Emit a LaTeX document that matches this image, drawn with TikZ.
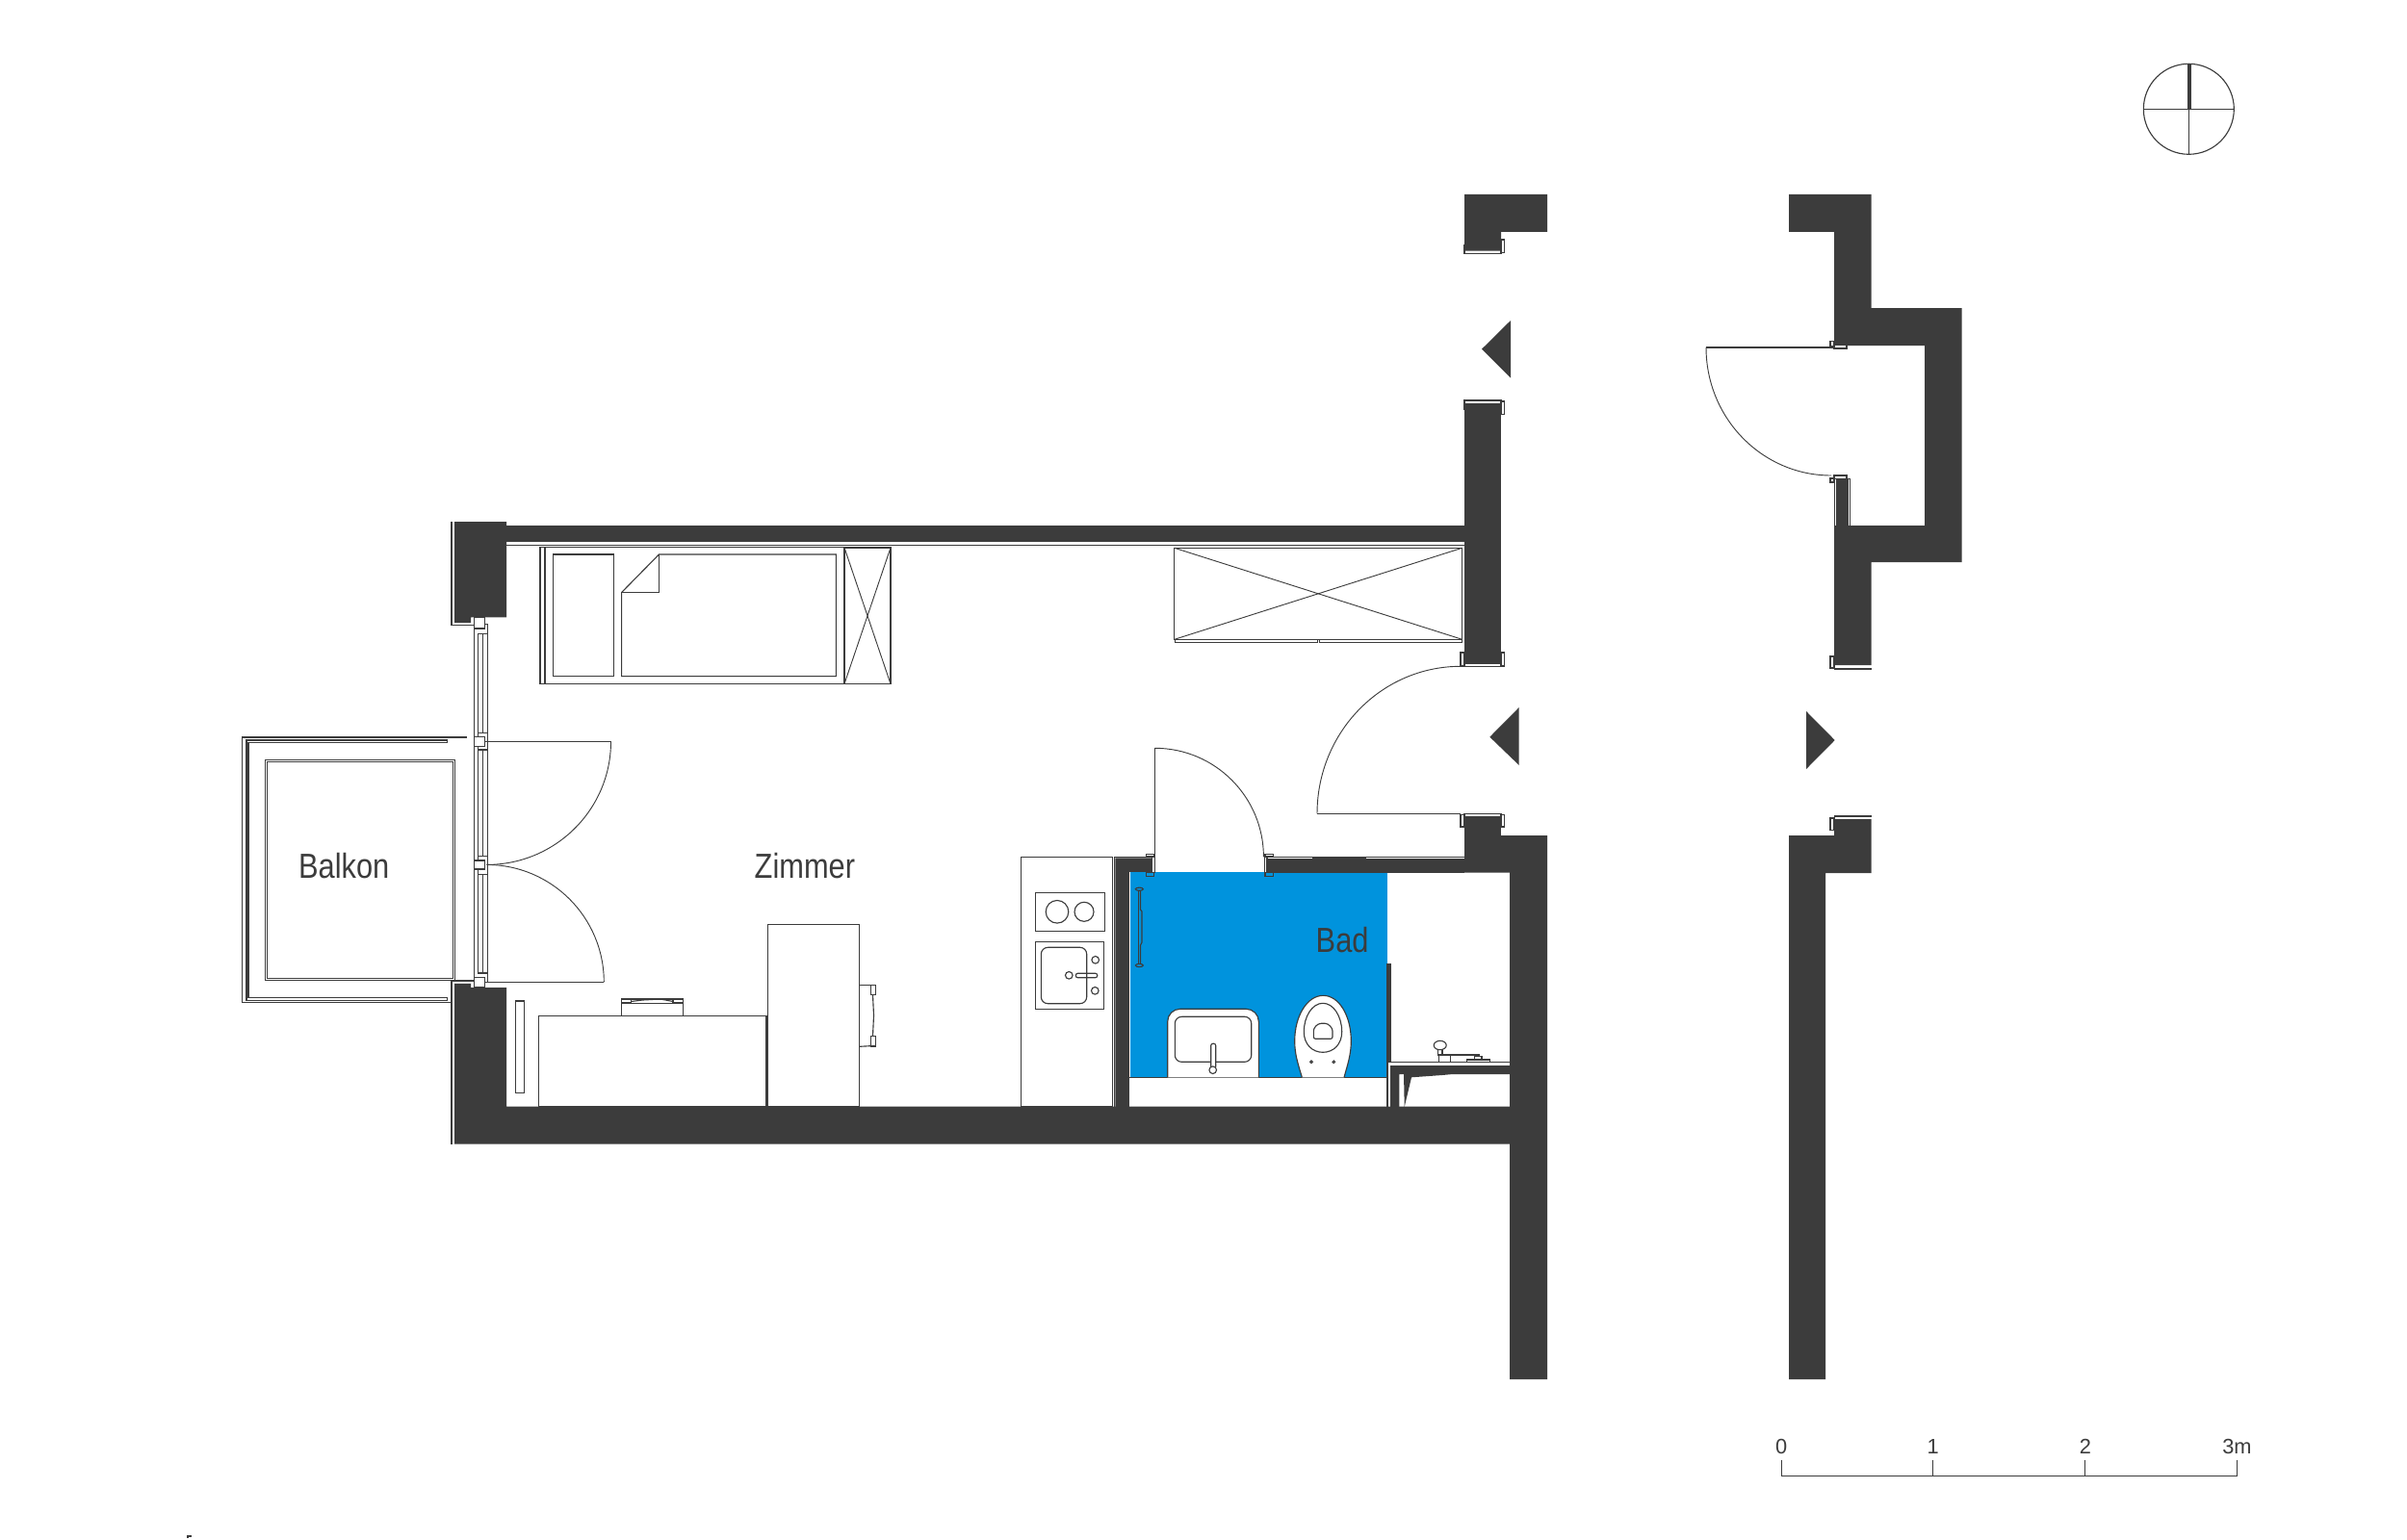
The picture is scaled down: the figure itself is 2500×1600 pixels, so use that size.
\documentclass[tikz,border=0pt]{standalone}
\usepackage{fontspec}
\newfontfamily\planfont[FakeStretch=0.85]{Liberation Sans}
\newfontfamily\scalefont{Liberation Sans}
\definecolor{walldark}{HTML}{3C3C3C}
\definecolor{bathblue}{HTML}{0093DD}
\tikzset{
  plan/.style={draw=walldark, line width=0.32pt},
  hair/.style={draw=walldark, line width=0.26pt},
  wall/.style={fill=walldark},
  roomlabel/.style={font=\planfont\fontsize{10.3pt}{12pt}\selectfont, text=walldark, inner sep=0pt, anchor=base west},
  scalelabel/.style={font=\scalefont\fontsize{6.2pt}{7pt}\selectfont, text=walldark, inner sep=0pt, anchor=base},
  whitebox/.style={plan, fill=white}
}
\begin{document}
\begin{tikzpicture}[x=0.01cm, y=-0.01cm]
    \fill[white] (0,0) rectangle (2500,1600);
    \useasboundingbox (0,0) rectangle (2500,1600);

    % bath
    \fill[bathblue] (1173.7,906) rectangle (1441,1119.3);
    \draw[plan] (1173,1119.3) -- (1441,1119.3);

    % outlines beside the walls
    \draw[plan] (469,542) -- (469,649.5) -- (492.5,649.5);
    \draw[plan] (492.5,1019) -- (469,1019) -- (469,1188.7);
    \draw[plan] (526,566.3) -- (1521,566.3);
    \draw[plan] (1521,263.7) rectangle (1559,255);
    \draw[plan] (1521,416) rectangle (1559,425);
    \draw[plan] (1521,692.5) rectangle (1559,685);
    \draw[plan] (1521,845.3) rectangle (1559,855);
    \draw[plan] (1905,695) -- (1943.6,695);
    \draw[plan] (1943.6,848) -- (1905,848);
    \draw[plan] (1905.3,546) -- (1905.3,494) -- (1918,494);
    \draw[plan] (1921.5,497.5) -- (1921.5,546);
    \draw[plan] (1907,497.5) -- (1921.5,497.5);
    \draw[plan] (1316,890.3) -- (1521,890.3);
    \draw[plan] (1316,906) -- (1521,906);
    \draw[plan] (1190,890.3) -- (1157.3,890.3) -- (1157.3,1150);
    \draw[plan] (1155.7,890.3) -- (1155.7,1150);
    \draw[plan] (1172.7,1150) -- (1172.7,905.5) -- (1197,905.5);

    % walls
    \fill[wall] (472,542) -- (526,542) -- (526,641.4) -- (489,641.4) -- (489,647) -- (472,647) -- cycle;
    \fill[wall] (526,546) rectangle (1521,563);
    \fill[wall] (472,1021.8) -- (489,1021.8) -- (489,1026) -- (526,1026) -- (526,1149.5) -- (1568,1149.5) -- (1568,906.5) -- (1521,906.5) -- (1521,868) -- (1607,868) -- (1607,1433) -- (1568,1433) -- (1568,1188.7) -- (472,1188.7) -- cycle;
    \fill[wall] (1521,847.7) rectangle (1559,868);
    \fill[wall] (1521,419) rectangle (1559,690);
    \fill[wall] (1521,202) -- (1607,202) -- (1607,241) -- (1559,241) -- (1559,260.7) -- (1521,260.7) -- cycle;
    \fill[wall] (1316,892) rectangle (1521,905);
    \fill[wall] (1363.3,890) rectangle (1418.7,906);
    \fill[wall] (1158.3,891.3) -- (1196.7,891.3) -- (1196.7,905) -- (1172.3,905) -- (1172.3,1150) -- (1158.3,1150) -- cycle;
    \fill[wall] (1440.3,1001) rectangle (1445,1103.3);
    \fill[wall] (1858,202) -- (1943.6,202) -- (1943.6,320) -- (2037.7,320) -- (2037.7,584) -- (1943.6,584) -- (1943.6,691) -- (1905,691) -- (1905,546) -- (1999,546) -- (1999,359) -- (1905,359) -- (1905,241) -- (1858,241) -- cycle;
    \fill[wall] (1907,497.5) rectangle (1920,546);
    \fill[wall] (1905,851) -- (1943.6,851) -- (1943.6,907) -- (1896,907) -- (1896,1433) -- (1858,1433) -- (1858,868) -- (1905,868) -- cycle;
    \fill[wall] (1444,1107) -- (1568,1107) -- (1568,1116) -- (1509,1116) -- (1498,1117) -- (1466,1119.3) -- (1458.7,1150) -- (1458,1116) -- (1453.3,1116) -- (1453.3,1150) -- (1444,1150) -- cycle;
    \draw[plan] (1441,1150) -- (1441,1103.3) -- (1568,1103.3);

    % section arrows
    \fill[wall] (1539,362.7) -- (1569,333) -- (1569,392.7) -- cycle;
    \fill[wall] (1547.3,765.7) -- (1577.7,735) -- (1577.7,795) -- cycle;
    \fill[wall] (1905.7,769) -- (1876,739) -- (1876,799) -- cycle;

    % jambs
    \foreach \x/\ya/\yb in {1559/249/262.7, 1559/417/430.7, 1517/678/692, 1559/678/692, 1517/846.7/859, 1559/846.7/859}
        \draw[plan] (\x,\ya) rectangle ++(3.6,\yb-\ya);
    \draw[whitebox] (1517,678) rectangle (1521,692);
    \draw[whitebox] (1517,846.7) rectangle (1521,859);
    \draw[plan] (1901,354.5) rectangle (1905,359.4);
    \draw[plan] (1901,497) rectangle (1905,501);
    \draw[plan] (1901,682) rectangle (1905,694);
    \draw[plan] (1901,850) rectangle (1905,862.5);
    \draw[whitebox] (1905,358) rectangle (1918,362);
    \draw[whitebox] (1905,494) rectangle (1918,497.5);
    \draw[whitebox] (1190.3,887.3) rectangle (1198.7,890);
    \draw[plan] (1190.3,906.7) rectangle (1198.7,910.7);
    \draw[whitebox] (1196.7,890) rectangle (1199.3,906.7);
    \draw[whitebox] (1314,887.3) rectangle (1322.7,890);
    \draw[plan] (1314,906.7) rectangle (1322.7,910.7);
    \draw[whitebox] (1313.3,890) rectangle (1316,906.7);

    % balcony
    \draw[plan] (485,766) -- (251.4,766) -- (251.4,1041.4) -- (469.3,1041.4);
    \draw[plan] (464.4,769) -- (256,769) -- (256,1039.6) -- (464.4,1039.6) -- (464.4,1036.5) -- (258,1036.5) -- (258,771.3) -- (464.4,771.3) -- cycle;
    \draw[plan] (275.1,789.6) rectangle (472.4,1018.7);
    \draw[plan] (277.3,791.4) rectangle (470.6,1016.4);

    % window
    \draw[plan] (492.5,649.5) -- (492.5,1020);
    \draw[plan] (506.8,648.6) -- (506.8,1020);
    \draw[plan] (496.5,658.4) -- (496.5,1011) -- (506.8,1011);
    \draw[plan] (501.4,658.4) -- (501.4,1011);
    \draw[plan] (496.5,658.4) -- (506.8,658.4);
    \draw[plan] (503,648.6) -- (506.8,648.6);
    \foreach \ya/\yb in {761.5/779, 889.6/908.4}
        \draw[whitebox] (496.5,\ya) rectangle (506.8,\yb);
    \foreach \ya/\yb in {641.4/653, 765.5/775.4, 894/903, 1015.5/1026}
        \draw[whitebox] (492.5,\ya) rectangle (503.2,\yb);

    % doors
    \draw[plan] (503,770.4) -- (634.5,770.4);
    \draw[hair] (634.5,770.4) arc[start angle=0, end angle=90, x radius=129, y radius=128];
    \draw[plan] (503,1020.4) -- (627.3,1020.4);
    \draw[hair] (627.3,1020.4) arc[start angle=0, end angle=-90, x radius=122, y radius=122];
    \draw[plan] (1517,845.3) -- (1368,845.3);
    \draw[hair] (1368,845.3) arc[start angle=180, end angle=270, x radius=149, y radius=153];
    \draw[plan] (1905,361) -- (1772,361);
    \draw[hair] (1772,361) arc[start angle=180, end angle=90, x radius=130, y radius=133];
    \draw[plan] (1199.4,890) -- (1199.4,777.3);
    \draw[hair] (1199.4,777.3) arc[start angle=-90, end angle=0, x radius=113, y radius=113];

    % bed
    \draw[plan] (561,568.7) rectangle (877,710.6);
    \draw[plan] (566,568.7) -- (566,710.6);
    \draw[plan] (574.6,576) rectangle (637.6,702.6);
    \draw[plan] (684.5,576) -- (868.4,576) -- (868.4,702.6) -- (645.6,702.6) -- (645.6,615.5) -- cycle;
    \draw[plan] (684.5,576) -- (684.5,615.5) -- (645.6,615.5);
    \draw[plan] (877,569) rectangle (925,710.6);
    \draw[hair] (877,569) -- (925,710.6);
    \draw[hair] (925,569) -- (877,710.6);

    % wardrobe
    \draw[plan] (1219.8,569.3) rectangle (1518.6,664.3);
    \draw[hair] (1219.8,569.3) -- (1518.6,664.3);
    \draw[hair] (1518.6,569.3) -- (1219.8,664.3);
    \draw[plan] (1220.5,664.5) rectangle (1368.5,667.3);
    \draw[plan] (1370.5,664.5) rectangle (1518.6,667.3);

    % desk and chairs
    \draw[plan] (559.5,1055.3) rectangle (796,1149.5);
    \draw[plan] (797.3,960.3) rectangle (892.7,1149.3);
    \draw[plan] (535.4,1040) rectangle (544.7,1135.6);
    \draw[plan] (645.6,1055.3) -- (645.6,1038) -- (709.5,1038) -- (709.5,1055.3);
    \draw[hair] (645.6,1042) -- (709.5,1042);
    \draw[plan] (645.6,1037.5) rectangle (655.5,1042);
    \draw[plan] (699,1037.5) rectangle (709.5,1042);
    \draw[plan] (655.5,1040.5) -- (667.5,1039) -- (686,1038) -- (699,1040.5);
    \draw[plan] (892.7,1023.3) -- (906,1023.3);
    \draw[plan] (892.7,1087.3) -- (908,1086.5);
    \draw[plan] (904.7,1023.3) rectangle (909.3,1033.3);
    \draw[plan] (904.7,1076.7) rectangle (909.3,1087);
    \draw[plan] (906.5,1033.3) -- (907.5,1055) -- (906.5,1076.7);

    % kitchen
    \draw[plan] (1060.3,890.3) rectangle (1155.7,1150);
    \draw[plan] (1075.3,927.3) rectangle (1147.7,967.7);
    \draw[plan] (1098,947.3) circle (11.8);
    \draw[plan] (1126,947.3) circle (10);
    \draw[plan] (1075.3,978.3) rectangle (1146.7,1048.3);
    \draw[plan, rounded corners=0.7mm] (1081.3,984.3) rectangle (1128.7,1042.7);
    \draw[plan] (1110.3,1013.3) circle (3.8);
    \draw[plan, rounded corners=0.2mm] (1117.3,1011.3) rectangle (1139.7,1015.7);
    \draw[plan] (1137.7,997.3) circle (3.8);
    \draw[plan] (1137.3,1029.3) circle (3.8);

    % towel bar
    \draw[plan] (1183.3,923.7) ellipse (4 and 1.6);
    \draw[plan] (1183.3,1003) ellipse (4 and 1.6);
    \draw[plan] (1182.3,925.3) -- (1182.3,1001.4);
    \draw[plan] (1184.5,925.3) -- (1184.5,945) -- (1186,947) -- (1186,979) -- (1184.5,982) -- (1184.5,1001.4);

    % washbasin
    \draw[whitebox, rounded corners=1.3mm] (1212.7,1119.3) -- (1212.7,1048.3) -- (1307.3,1048.3) -- (1307.3,1119.3);
    \draw[plan, rounded corners=0.7mm] (1220.3,1056.3) rectangle (1299.7,1103.3);
    \draw[whitebox, rounded corners=0.2mm] (1257.7,1084.3) rectangle (1262.7,1110);
    \draw[whitebox] (1259.7,1111.7) circle (3.8);

    % toilet
    \draw[whitebox] (1352.3,1119.3) .. controls (1348,1105) and (1344.7,1095) .. (1344.7,1081.7)
        .. controls (1344.7,1055) and (1358,1034.3) .. (1374.3,1034.3)
        .. controls (1390.6,1034.3) and (1403.3,1055) .. (1403.3,1081.7)
        .. controls (1403.3,1095) and (1400,1105) .. (1396,1119.3);
    \draw[plan] (1374,1042.3) .. controls (1385,1042.3) and (1393.7,1056) .. (1393.7,1072)
        .. controls (1393.7,1085) and (1385,1093.3) .. (1374,1093.3)
        .. controls (1363,1093.3) and (1354.3,1085) .. (1354.3,1072)
        .. controls (1354.3,1056) and (1363,1042.3) .. (1374,1042.3);
    \draw[plan, rounded corners=0.2mm] (1364.3,1079.3) -- (1384,1079.3) -- (1384,1073)
        .. controls (1384,1068) and (1380,1063.3) .. (1374.2,1063.3)
        .. controls (1368,1063.3) and (1364.3,1068) .. (1364.3,1073) -- cycle;
    \draw[plan] (1362,1103.3) circle (1.3);
    \draw[plan] (1385.3,1103.3) circle (1.3);

    % fittings next to the shower
    \draw[plan] (1495.7,1086) ellipse (6.5 and 4.7);
    \draw[plan] (1493.3,1090.7) rectangle (1498,1096.7);
    \draw[plan] (1494.3,1096) rectangle (1506.7,1103.3);
    \fill[wall] (1506.7,1095) rectangle (1537.3,1097);
    \draw[plan] (1523.3,1101) rectangle (1547.7,1103.3);
    \draw[plan] (1531.7,1097.3) rectangle (1539,1101);

    % labels
    \node[roomlabel] (balkon) at (309.5,912) {Balkon};
    \node[roomlabel] (zimmer) at (783,912) {Zimmer};
    \node[roomlabel] (bad) at (1366,989.3) {Bad};

    % north sign
    \draw[plan] (2273.3,113.3) circle (47);
    \draw[plan] (2226.3,113.3) -- (2320.3,113.3);
    \draw[plan] (2273.3,66.3) -- (2273.3,160.3);
    \fill[wall] (2272,66) rectangle (2276,113.3);

    % scale
    \draw[plan] (1850.2,1516.7) -- (1850.2,1533.3) -- (2323.4,1533.3) -- (2323.4,1516.7);
    \draw[plan] (2007.7,1516.7) -- (2007.7,1533.3);
    \draw[plan] (2165.9,1516.7) -- (2165.9,1533.3);
    \node[scalelabel] (s0) at (1850.2,1510) {0};
    \node[scalelabel] (s1) at (2007.7,1510) {1};
    \node[scalelabel] (s2) at (2165.9,1510) {2};
    \node[scalelabel] (s3) at (2323.4,1510) {3m};

    \draw[plan] (195,1598) -- (195,1596) -- (199,1596);
\end{tikzpicture}
\end{document}
